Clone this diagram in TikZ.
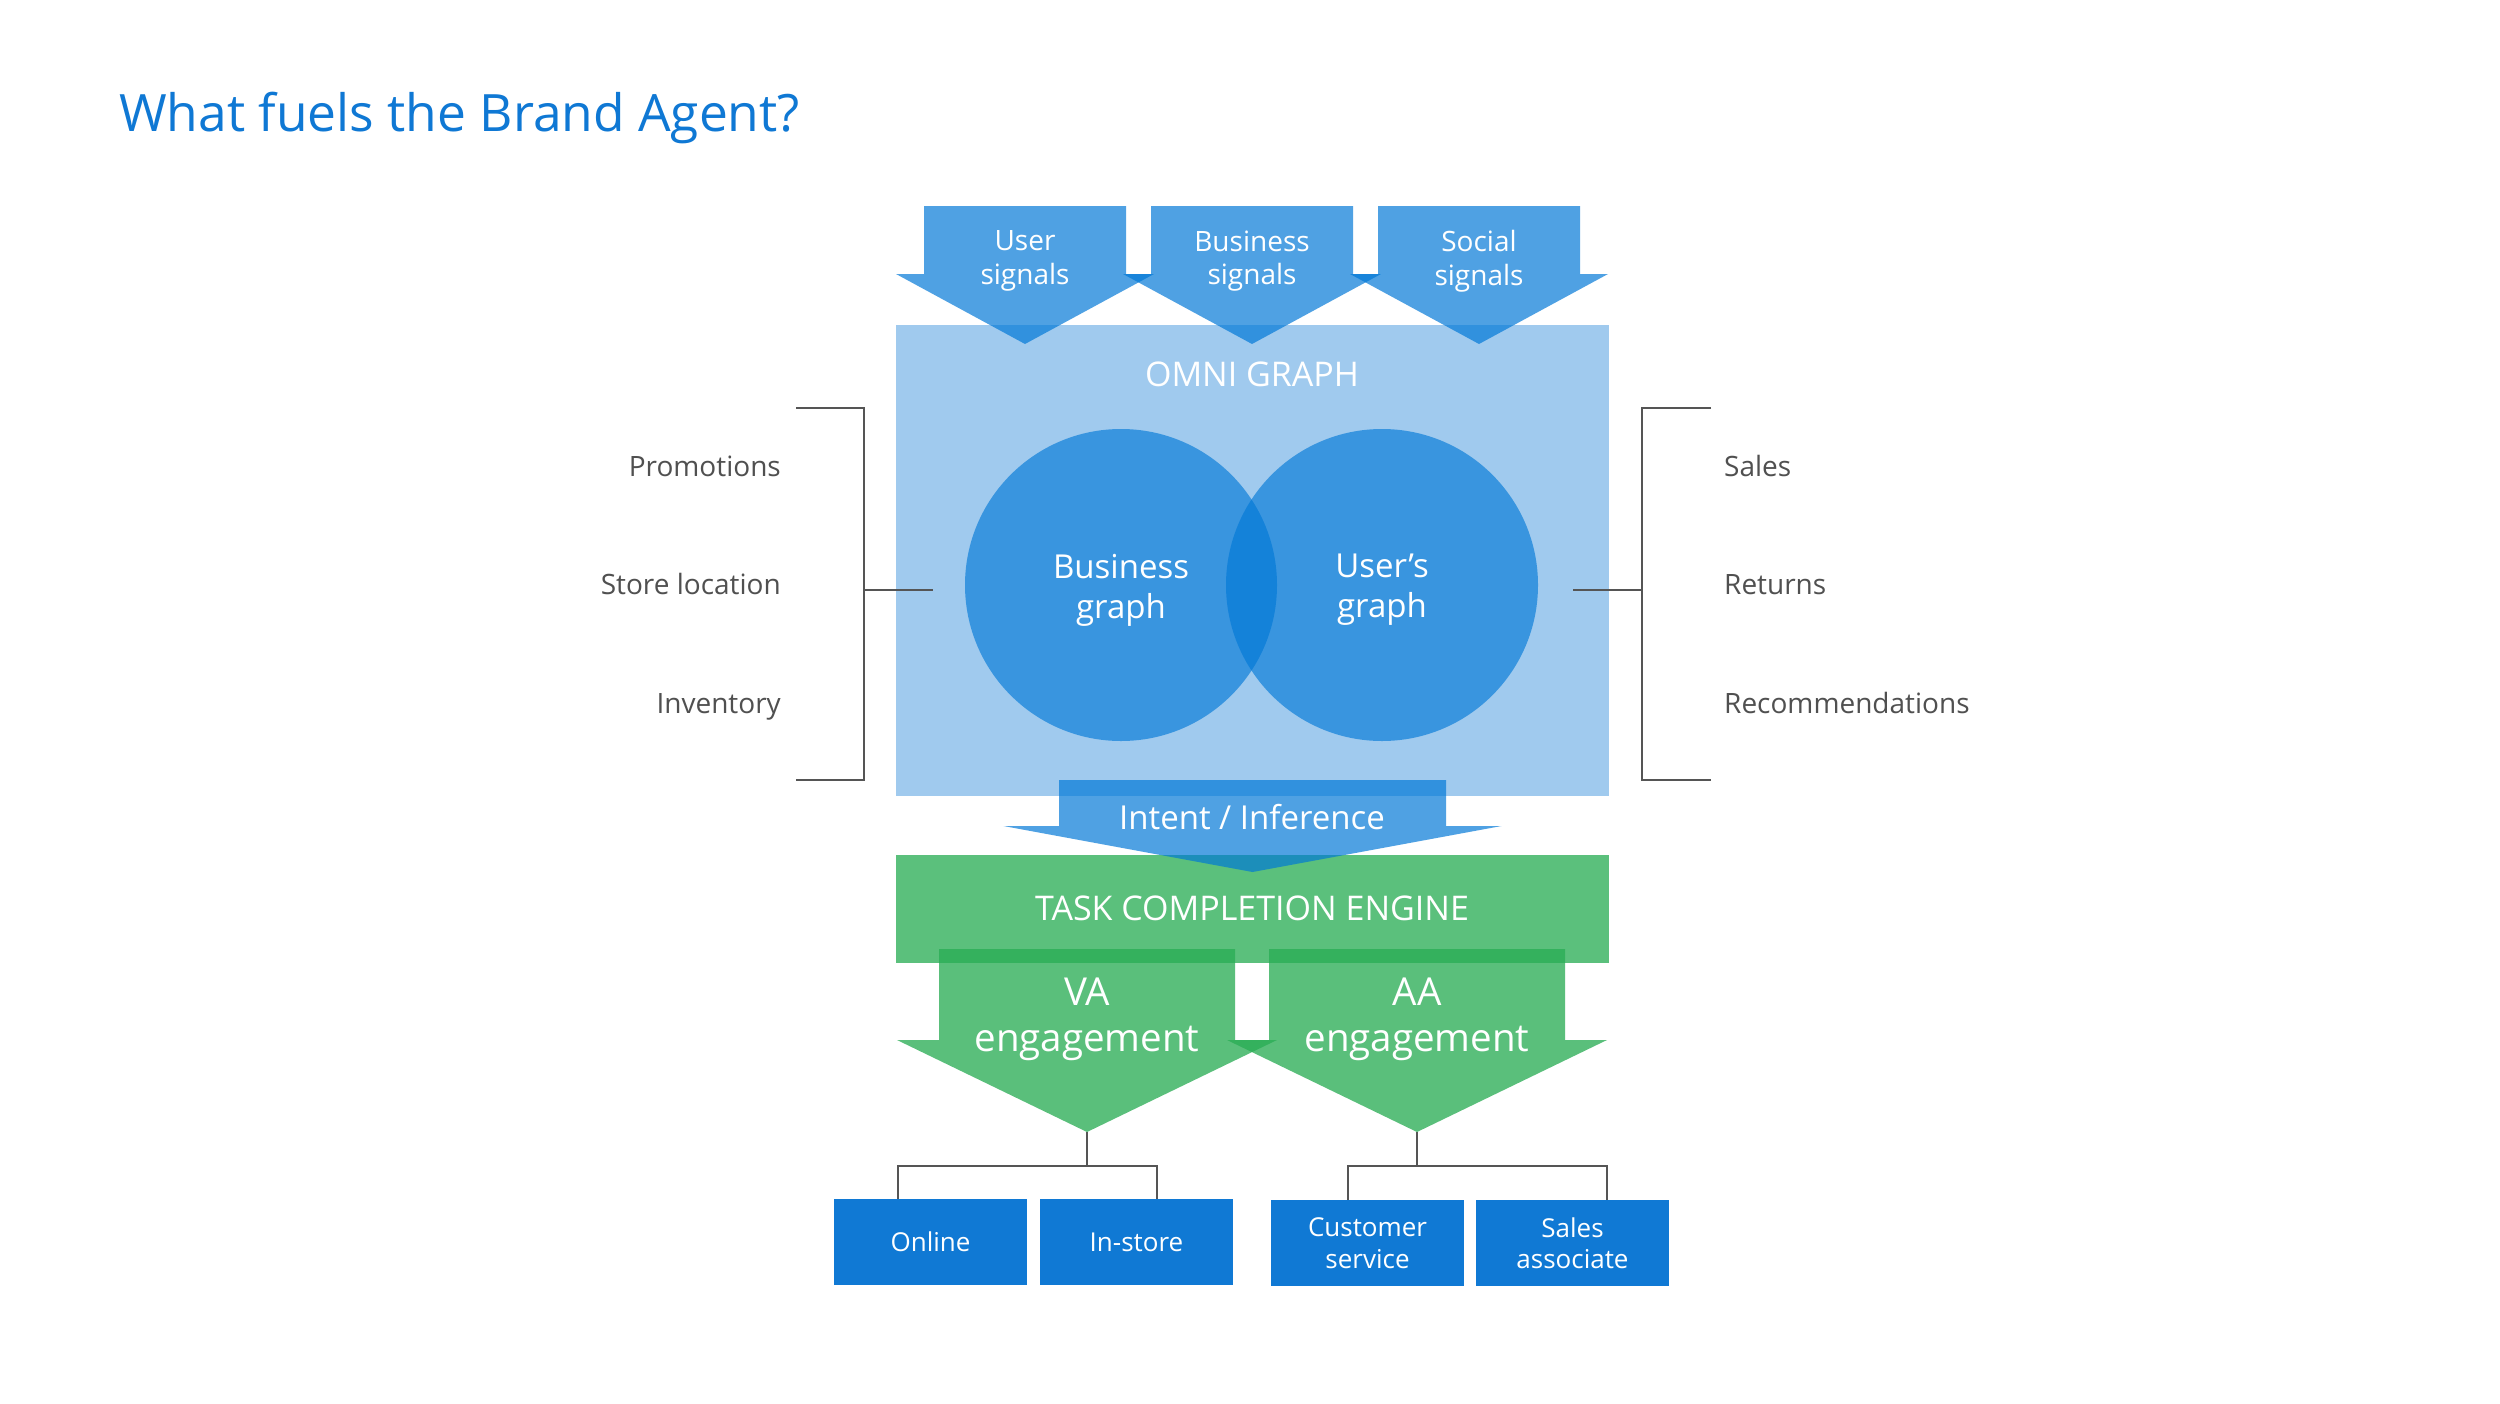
\documentclass[tikz,border=0pt]{standalone}
\usepackage{fontspec}
\setmainfont{Open Sans}
\definecolor{msblue}{HTML}{0078D7}
\definecolor{titleblue}{HTML}{0F78D4}
\definecolor{boxblue}{HTML}{1079D4}
\definecolor{omnifill}{HTML}{A0CAEE}
\definecolor{tcefill}{HTML}{5BC07C}
\definecolor{tgreen}{RGB}{41,173,84}
\definecolor{lblgray}{HTML}{505050}
\definecolor{lineg}{HTML}{555555}
\newcommand{\dnarrowshape}[7]{%
  \fill[#1] (#2-#4,#3) -- (#2+#4,#3) -- (#2+#4,#5) -- (#2+#6,#5) -- (#2,#7)
    -- (#2-#6,#5) -- (#2-#4,#5) -- cycle;}
\begin{document}
\begin{tikzpicture}[x=1pt,y=-1pt,
  sig/.style={fill=msblue, fill opacity=0.69},
  grn/.style={fill=tgreen, fill opacity=0.77},
  wtxt/.style={text=white, align=center, inner sep=0pt},
  lbl/.style={text=lblgray, inner sep=0pt, font=\fontsize{28}{33}\selectfont},
  brk/.style={draw=lineg, line width=2.4pt},
  circ/.style={circle, fill=msblue, fill opacity=0.64, text opacity=1, text=white,
    minimum size=312pt, inner sep=0pt, align=center, font=\fontsize{33}{40}\selectfont},
  outbox/.style={fill=boxblue, minimum width=193pt, minimum height=86pt, inner sep=0pt,
    text=white, align=center, font=\fontsize{26}{31.5}\selectfont}]
\fill[white] (0,0) rectangle (2500,1403);
\useasboundingbox (0,0) rectangle (2500,1403);

% title
\node[anchor=base west, text=titleblue, inner sep=0pt, font=\fontsize{51.5}{60}\selectfont]
  (title) at (119,131) {What fuels the Brand Agent?};

% omni graph
\node[fill=omnifill, minimum width=713pt, minimum height=471pt, inner sep=0pt] (omni) at (1252.5,560.5) {};
\node[wtxt, font=\fontsize{34}{40}\selectfont] (omnilbl) at (1252,374) {OMNI GRAPH};

% top arrows
\dnarrowshape{sig}{1025}{206}{101}{274}{129}{344}
\dnarrowshape{sig}{1252}{206}{101}{274}{129}{344}
\dnarrowshape{sig}{1479}{206}{101}{274}{129}{344}
\node[wtxt, font=\fontsize{28}{33.6}\selectfont] (usersig) at (1025,261) {User\\signals};
\node[wtxt, font=\fontsize{28}{33.6}\selectfont] (bussig) at (1252,261) {Business\\signals};
\node[wtxt, font=\fontsize{28}{33.6}\selectfont] (socsig) at (1479,261) {Social\\signals};

% circles
\node[circ] (bgraph) at (1121,585) {};
\node[circ] (ugraph) at (1382,585) {};
\node[wtxt, font=\fontsize{33}{40}\selectfont] (bgraphlbl) at (1121,590) {Business\\graph};
\node[wtxt, font=\fontsize{33}{40}\selectfont] (ugraphlbl) at (1382,590) {User’s\\graph};

% brackets
\draw[brk] (796,408) -- (864,408) -- (864,780) -- (796,780);
\coordinate (lbrk) at (864,590);
\coordinate (lend) at (933,590);
\draw[brk] (lbrk) -- (lend);
\draw[brk] (1711,408) -- (1642,408) -- (1642,780) -- (1711,780);
\coordinate (rbrk) at (1642,590);
\coordinate (rend) at (1573,590);
\draw[brk] (rbrk) -- (rend);

\node[lbl, anchor=base east] (promo) at (781,476) {Promotions};
\node[lbl, anchor=base east] (store) at (781,594) {Store location};
\node[lbl, anchor=base east] (inv) at (781,713) {Inventory};
\node[lbl, anchor=base west] (sales) at (1724,476) {Sales};
\node[lbl, anchor=base west] (returns) at (1724,594) {Returns};
\node[lbl, anchor=base west] (recs) at (1724,713) {Recommendations};

% task completion engine
\node[fill=tcefill, minimum width=713pt, minimum height=108pt, inner sep=0pt] (tce) at (1252.5,909) {};
\node[wtxt, font=\fontsize{34}{40}\selectfont] (tcelbl) at (1252,908) {TASK COMPLETION ENGINE};

% intent arrow
\dnarrowshape{sig}{1252.5}{780}{193.5}{826}{249}{872}
\node[wtxt, font=\fontsize{33}{40}\selectfont] (intent) at (1252,817) {Intent / Inference};

% engagement arrows
\dnarrowshape{grn}{1087}{949}{148}{1040}{190}{1132}
\dnarrowshape{grn}{1417}{949}{148}{1040}{190}{1132}
\node[wtxt, font=\fontsize{38.5}{46}\selectfont] (va) at (1087,1019) {VA\\engagement};
\node[wtxt, font=\fontsize{38.5}{46}\selectfont] (aa) at (1417,1019) {AA\\engagement};
\coordinate (vatip) at (1087,1132);
\coordinate (aatip) at (1417,1132);
\coordinate (vaj) at (1087,1166);
\coordinate (aaj) at (1417,1166);

% output boxes
\node[outbox] (online) at (930.5,1242) {Online};
\node[outbox] (instore) at (1136.5,1242) {In-store};
\node[outbox] (custserv) at (1367.5,1243) {Customer\\service};
\node[outbox] (salesassoc) at (1572.5,1243) {Sales\\associate};

\draw[brk] (vatip) -- (vaj);
\draw[brk] ([xshift=64pt]online.north west) |- (vaj) -| ([xshift=117pt]instore.north west);
\draw[brk] (aatip) -- (aaj);
\draw[brk] ([xshift=77pt]custserv.north west) |- (aaj) -| ([xshift=131pt]salesassoc.north west);
\end{tikzpicture}
\end{document}
